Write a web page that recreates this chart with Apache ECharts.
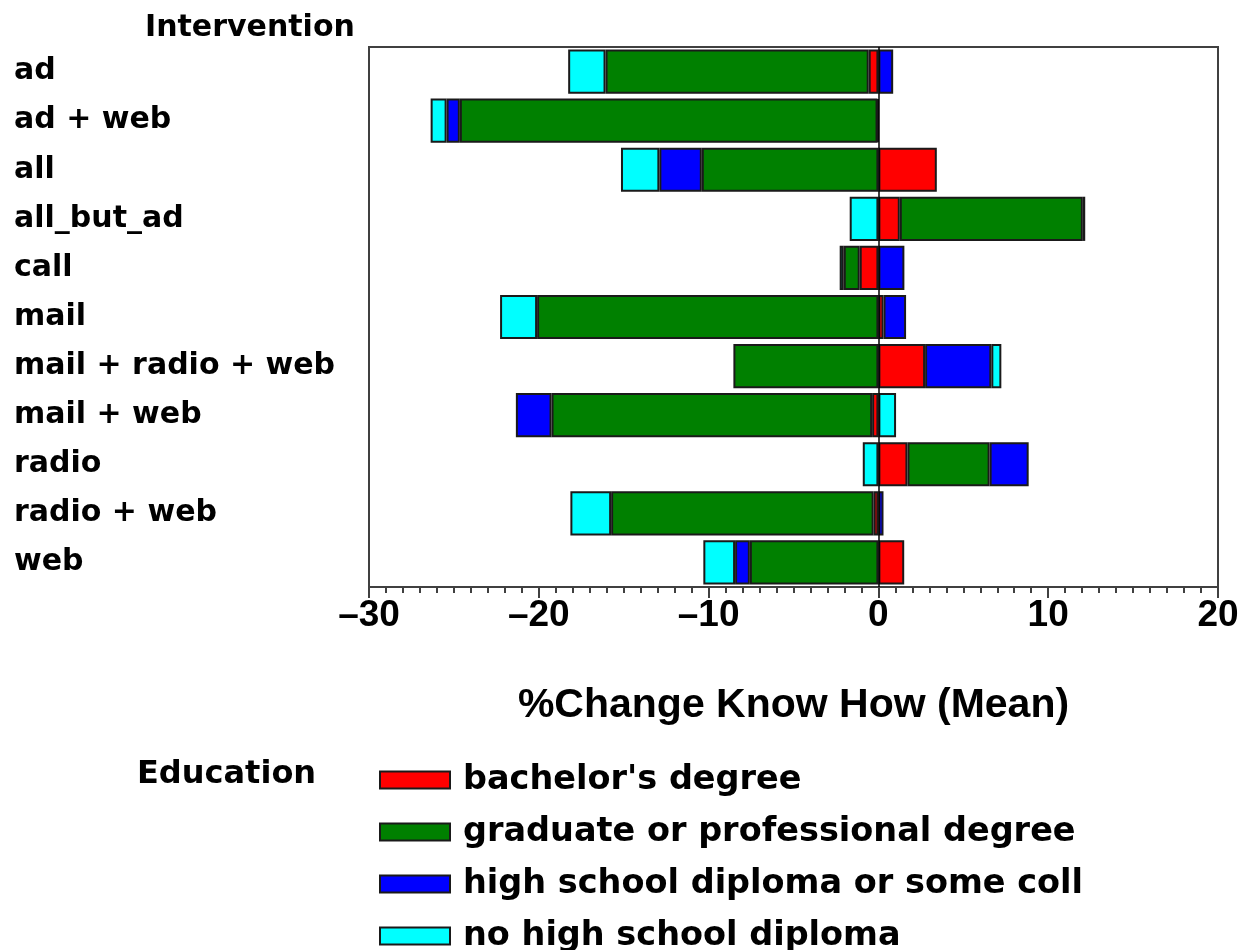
<!DOCTYPE html>
<html>
<head>
<meta charset="utf-8">
<script src="https://cdn.jsdelivr.net/npm/echarts@6/dist/echarts.min.js"></script>
<style>html,body{margin:0;padding:0;background:#fff}#c{width:1250px;height:950px}</style>
</head>
<body>
<div id="c"></div>
<script>
const categories = ['ad', 'ad + web', 'all', 'all_but_ad', 'call', 'mail', 'mail + radio + web', 'mail + web', 'radio', 'radio + web', 'web'];
const seriesNames = ["bachelor's degree", 'graduate or professional degree', 'high school diploma or some coll', 'no high school diploma'];
const bachelor = [-0.57, -0.05, 3.44, 1.26, -1.10, 0.30, 2.75, -0.37, 1.71, -0.28, 1.52];
const graduate = [-15.50, -24.60, -10.40, 10.78, -0.94, -20.10, -8.54, -18.88, 4.84, -15.46, -7.57];
const highSchool = [0.87, -0.78, -2.50, 0.14, 1.53, 1.33, 3.90, -2.10, 2.30, 0.30, -0.87];
const noHighSchool = [-2.20, -0.94, -2.26, -1.69, -0.24, -2.18, 0.59, 1.04, -0.92, -2.40, -1.87];
const xTicks = [-30, -20, -10, 0, 10, 20];

const colors = ['#FF0000', '#008000', '#0000FF', '#00FFFF'];
const values = [bachelor, graduate, highSchool, noHighSchool];
const boldFont = 'DejaVu Sans';
const narrowFont = '"Liberation Sans Narrow", "Liberation Sans", Arial, sans-serif';

const chart = echarts.init(document.getElementById('c'), null, {renderer: 'canvas'});
const series = values.map((vals, i) => ({
  name: seriesNames[i],
  type: 'bar',
  stack: 'total',
  barWidth: '90%',
  data: vals,
  itemStyle: {color: colors[i], borderColor: '#1a1a1a', borderWidth: 2},
  emphasis: {disabled: true},
  animation: false,
  markLine: i === 0 ? {
    silent: true, symbol: 'none', animation: false,
    label: {show: false},
    lineStyle: {color: '#000', width: 1.5, type: 'solid'},
    data: [{xAxis: 0}]
  } : undefined
}));

chart.setOption({
  animation: false,
  title: {
    text: 'Intervention', left: 140, top: 8,
    textStyle: {fontFamily: boldFont, fontWeight: 'bold', fontSize: 30, color: '#000'}
  },
  grid: {left: 369, right: 32, top: 47, bottom: 363, show: true, borderColor: '#404040', borderWidth: 2, backgroundColor: '#fff'},
  legend: {
    orient: 'vertical', left: 379, top: 763, height: 300, padding: 0,
    itemWidth: 70, itemHeight: 17, itemGap: 18,
    icon: 'rect',
    data: seriesNames,
    selectedMode: false,
    textStyle: {fontFamily: boldFont, fontWeight: 'bold', fontSize: 33.5, color: '#000', lineHeight: 30, padding: [0, 0, 0, 8]}
  },
  graphic: [{
    type: 'text', left: 137, top: 759,
    style: {text: 'Education', font: 'bold 32px "DejaVu Sans"', fill: '#000'}
  }],
  xAxis: {
    type: 'value', min: -30, max: 20, interval: 10,
    name: '%Change Know How (Mean)', nameLocation: 'middle', nameGap: 98,
    nameTextStyle: {fontFamily: narrowFont, fontWeight: 'bold', fontSize: 41, color: '#000'},
    axisLine: {show: true, lineStyle: {color: '#404040', width: 2}},
    axisTick: {show: true, length: 11, lineStyle: {color: '#404040', width: 2}},
    minorTick: {show: true, splitNumber: 10, length: 6, lineStyle: {color: '#404040', width: 2}},
    splitLine: {show: false},
    axisLabel: {
      margin: 10, fontFamily: narrowFont, fontWeight: 'bold', fontSize: 37, color: '#000',
      formatter: v => (v < 0 ? '\u2013' + Math.abs(v) : String(v))
    }
  },
  yAxis: {
    type: 'category', data: categories, inverse: true,
    axisLine: {show: true, onZero: false, lineStyle: {color: '#404040', width: 2}},
    axisTick: {show: false},
    axisLabel: {margin: 355, align: 'left', fontFamily: boldFont, fontWeight: 'bold', fontSize: 30, color: '#000'}
  },
  series: series
});
</script>
</body>
</html>
